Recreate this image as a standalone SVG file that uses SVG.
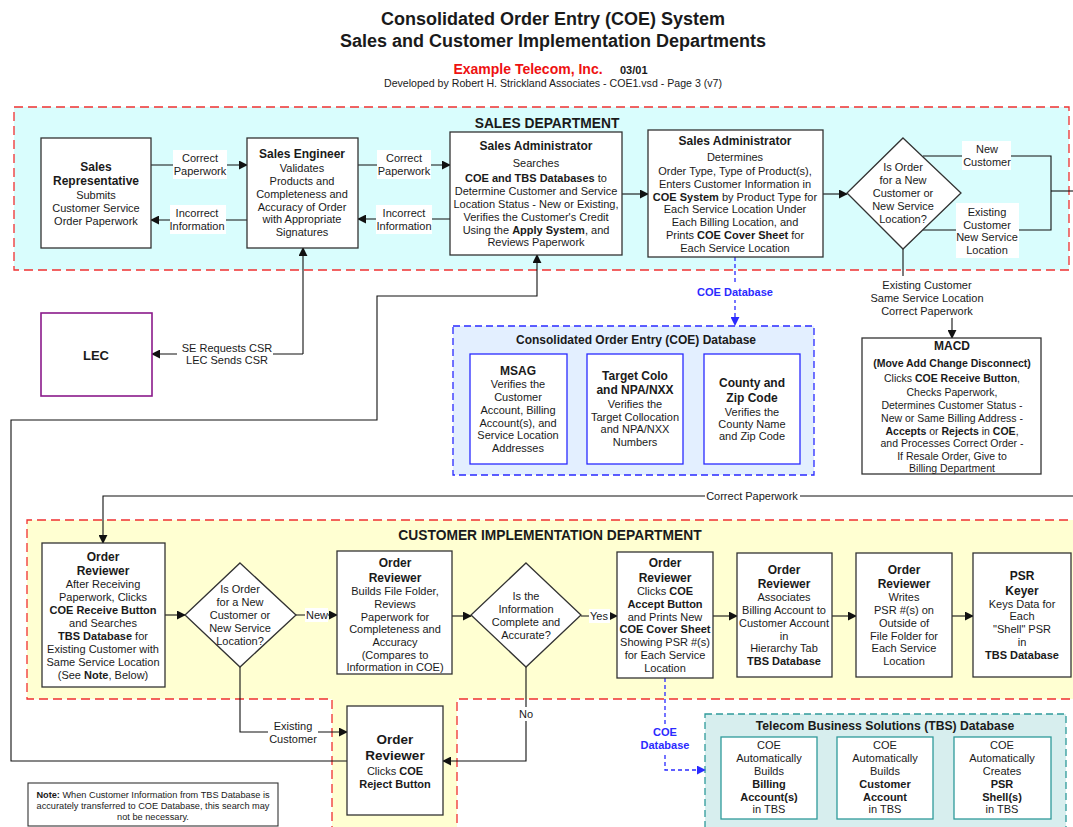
<svg xmlns="http://www.w3.org/2000/svg" width="1073" height="827" viewBox="0 0 1073 827">
<defs>
<marker id="ar" viewBox="0 0 10 10" refX="9" refY="5" markerWidth="9" markerHeight="9" markerUnits="userSpaceOnUse" orient="auto"><path d="M0,0 L10,5 L0,10 Z" fill="#111"/></marker>
<marker id="abl" viewBox="0 0 10 10" refX="9" refY="5" markerWidth="9" markerHeight="9" markerUnits="userSpaceOnUse" orient="auto"><path d="M0,0 L10,5 L0,10 Z" fill="#2a2aff"/></marker>
</defs>
<style>
text{font-family:"Liberation Sans",Arial,Helvetica,sans-serif;fill:#1a1a1a}
.c{text-anchor:middle;font-size:11px}
.m{text-anchor:middle;font-size:10.5px}
.b{font-weight:bold}
.h{font-size:12px;font-weight:bold}
.box{fill:#fff;stroke:#333;stroke-width:1.3}
.ln{fill:none;stroke:#111;stroke-width:1.1}
.dl{fill:none;stroke:#2a2aff;stroke-width:1.3;stroke-dasharray:4,3}
.lb{fill:#fff}
.blue{fill:#2a2aff;font-weight:bold;font-size:11px;text-anchor:middle}
.dept{fill:none;stroke:#f03030;stroke-width:1.3;stroke-dasharray:9,5}
.dh{font-size:13.8px;font-weight:bold;text-anchor:middle}
.sub{fill:#fff;stroke:#2a2aff;stroke-width:1.3}
.tsub{fill:#fff;stroke:#2f9a9a;stroke-width:1.3}
</style>
<rect width="1073" height="827" fill="#fff"/>

<g id="title">
<text x="553" y="25" text-anchor="middle" font-size="18" font-weight="bold">Consolidated Order Entry (COE) System</text>
<text x="553" y="47" text-anchor="middle" font-size="18" font-weight="bold">Sales and Customer Implementation Departments</text>
<text x="528" y="74" text-anchor="middle" font-size="14" font-weight="bold" style="fill:#ee1111">Example Telecom, Inc.</text>
<text x="620" y="74" font-size="11" font-weight="bold">03/01</text>
<text x="553" y="87" text-anchor="middle" font-size="10.6">Developed by Robert H. Strickland Associates - COE1.vsd  - Page 3 (v7)</text>
</g>

<g id="sales-department">
<rect x="14" y="107" width="1055" height="163" fill="#d9fdfd"/>
<rect x="14" y="107" width="1055" height="163" class="dept"/>
<text x="547" y="128" class="dh">SALES DEPARTMENT</text>
</g>

<g id="ci-department">
<rect x="27" y="520" width="1060" height="179" fill="#ffffd2"/>
<rect x="332" y="699" width="125" height="135" fill="#ffffd2"/>
<path d="M332,835 V699 H27 V520 H1087 V699 H457 V835" class="dept"/>
<text x="550" y="540" class="dh">CUSTOMER IMPLEMENTATION DEPARTMENT</text>
</g>

<g id="coe-database">
<rect x="453" y="326" width="361" height="149" fill="#e3efff" stroke="#2a2aff" stroke-width="1.3" stroke-dasharray="7,4"/>
<text x="636" y="344" text-anchor="middle" font-size="12" font-weight="bold">Consolidated Order Entry (COE) Database</text>
</g>

<g id="tbs-database">
<rect x="705" y="714" width="361" height="125" fill="#d7eeee" stroke="#2f9a9a" stroke-width="1.3" stroke-dasharray="7,4"/>
<text x="885" y="730" text-anchor="middle" font-size="12.2" font-weight="bold">Telecom Business Solutions (TBS) Database</text>
</g>

<g id="connectors">
<path d="M151,165 H247" class="ln" marker-end="url(#ar)"/>
<path d="M247,220 H151" class="ln" marker-end="url(#ar)"/>
<path d="M358,165 H450" class="ln" marker-end="url(#ar)"/>
<path d="M450,219 H358" class="ln" marker-end="url(#ar)"/>
<path d="M622,194 H648" class="ln" marker-end="url(#ar)"/>
<path d="M823,194 H847" class="ln" marker-end="url(#ar)"/>
<path d="M923,156 H1051 V230 H923" class="ln"/>
<path d="M1051,191 H1075" class="ln"/>
<path d="M903,249 V276" class="ln"/>
<path d="M952,318 V338" class="ln" marker-end="url(#ar)"/>
<path d="M303,354 H152" class="ln" marker-end="url(#ar)"/>
<path d="M303,354 V248" class="ln" marker-end="url(#ar)"/>
<path d="M347,761 H11 V420 H377 V296 H537 V255" class="ln" marker-end="url(#ar)"/>
<path d="M1075,496 H103 V543" class="ln" marker-end="url(#ar)"/>
<path d="M735,257 V325" class="dl" marker-end="url(#abl)"/>
<path d="M165,615 H185" class="ln" marker-end="url(#ar)"/>
<path d="M296,615 H337" class="ln" marker-end="url(#ar)"/>
<path d="M452,616 H471" class="ln" marker-end="url(#ar)"/>
<path d="M581,616 H617" class="ln" marker-end="url(#ar)"/>
<path d="M713,616 H737" class="ln" marker-end="url(#ar)"/>
<path d="M832,616 H856" class="ln" marker-end="url(#ar)"/>
<path d="M952,616 H973" class="ln" marker-end="url(#ar)"/>
<path d="M240,667 V732 H347" class="ln" marker-end="url(#ar)"/>
<path d="M526,667 V761 H443" class="ln" marker-end="url(#ar)"/>
<path d="M665,678 V770 H705" class="dl" marker-end="url(#abl)"/>

<rect x="173" y="150" width="54" height="29" class="lb"/>
<text class="c"><tspan x="200" y="162">Correct</tspan><tspan x="200" y="175">Paperwork</tspan></text>
<rect x="170" y="205" width="56" height="29" class="lb"/>
<text class="c"><tspan x="197" y="217">Incorrect</tspan><tspan x="197" y="230">Information</tspan></text>
<rect x="377" y="150" width="54" height="29" class="lb"/>
<text class="c"><tspan x="404" y="162">Correct</tspan><tspan x="404" y="175">Paperwork</tspan></text>
<rect x="376" y="205" width="56" height="29" class="lb"/>
<text class="c"><tspan x="404" y="217">Incorrect</tspan><tspan x="404" y="230">Information</tspan></text>
<rect x="962" y="141" width="49" height="29" class="lb"/>
<text class="c"><tspan x="987" y="153">New</tspan><tspan x="987" y="166">Customer</tspan></text>
<rect x="956" y="203" width="63" height="55" class="lb"/>
<text class="c"><tspan x="987" y="216">Existing</tspan><tspan x="987" y="229">Customer</tspan><tspan x="987" y="241">New Service</tspan><tspan x="987" y="254">Location</tspan></text>
<text class="c"><tspan x="927" y="289">Existing Customer</tspan><tspan x="927" y="302">Same Service Location</tspan><tspan x="927" y="315">Correct Paperwork</tspan></text>
<rect x="177" y="341" width="96" height="26" class="lb"/>
<text class="c"><tspan x="227" y="352">SE Requests CSR</tspan><tspan x="227" y="364">LEC Sends CSR</tspan></text>
<rect x="696" y="285" width="78" height="15" class="lb"/>
<text x="735" y="296" class="blue">COE Database</text>
<rect x="705" y="490" width="95" height="14" class="lb"/>
<text x="752" y="500" class="c">Correct Paperwork</text>
<rect x="305" y="608" width="23" height="14" class="lb"/>
<text x="317" y="619" class="c">New</text>
<rect x="589" y="609" width="21" height="14" class="lb"/>
<text x="599" y="620" class="c">Yes</text>
<rect x="268" y="719" width="50" height="27" class="lb"/>
<text class="c"><tspan x="293" y="730">Existing</tspan><tspan x="293" y="743">Customer</tspan></text>
<rect x="516" y="707" width="20" height="14" class="lb"/>
<text x="526" y="718" class="c">No</text>
<rect x="638" y="724" width="54" height="28" class="lb"/>
<text class="blue"><tspan x="665" y="736">COE</tspan><tspan x="665" y="749">Database</tspan></text>
</g>

<g id="sales-representative">
<rect x="41" y="138" width="110" height="110" class="box"/>
<text class="c"><tspan x="96" y="171" class="h">Sales</tspan><tspan x="96" y="185" class="h">Representative</tspan><tspan x="96" y="199">Submits</tspan><tspan x="96" y="212">Customer Service</tspan><tspan x="96" y="225">Order Paperwork</tspan></text>
</g>

<g id="sales-engineer">
<rect x="247" y="138" width="111" height="110" class="box"/>
<text class="c"><tspan x="302" y="158" class="h">Sales Engineer</tspan><tspan x="302" y="172">Validates</tspan><tspan x="302" y="185">Products and</tspan><tspan x="302" y="198">Completeness and</tspan><tspan x="302" y="211">Accuracy of Order</tspan><tspan x="302" y="223">with Appropriate</tspan><tspan x="302" y="236">Signatures</tspan></text>
</g>

<g id="sales-administrator-1">
<rect x="450" y="132" width="172" height="123" class="box"/>
<text class="c"><tspan x="536" y="150" class="h">Sales Administrator</tspan><tspan x="536" y="167">Searches</tspan><tspan x="536" y="182"><tspan class="b">COE and TBS Databases</tspan> to</tspan><tspan x="536" y="195">Determine Customer and Service</tspan><tspan x="536" y="208">Location Status - New or Existing,</tspan><tspan x="536" y="221">Verifies the Customer's Credit</tspan><tspan x="536" y="234">Using the <tspan class="b">Apply System</tspan>, and</tspan><tspan x="536" y="246">Reviews Paperwork</tspan></text>
</g>

<g id="sales-administrator-2">
<rect x="648" y="130" width="175" height="127" class="box"/>
<text class="c"><tspan x="735" y="145" class="h">Sales Administrator</tspan><tspan x="735" y="161">Determines</tspan><tspan x="735" y="175">Order Type, Type of Product(s),</tspan><tspan x="735" y="188">Enters Customer Information in</tspan><tspan x="735" y="201"><tspan class="b">COE System</tspan> by Product Type for</tspan><tspan x="735" y="213">Each Service Location Under</tspan><tspan x="735" y="226">Each Billing Location, and</tspan><tspan x="735" y="239">Prints <tspan class="b">COE Cover Sheet</tspan> for</tspan><tspan x="735" y="252">Each Service Location</tspan></text>
</g>

<g id="decision-new-customer">
<polygon points="903,138 961,193 903,249 847,193" class="box"/>
<text class="c"><tspan x="903" y="171">Is Order</tspan><tspan x="903" y="184">for a New</tspan><tspan x="903" y="197">Customer or</tspan><tspan x="903" y="210">New Service</tspan><tspan x="903" y="223">Location?</tspan></text>
</g>

<g id="macd">
<rect x="862" y="338" width="179" height="136" class="box"/>
<text class="m"><tspan x="952" y="350" class="h">MACD</tspan><tspan x="952" y="367" class="b">(Move Add Change Disconnect)</tspan><tspan x="952" y="382">Clicks <tspan class="b">COE Receive Button</tspan>,</tspan><tspan x="952" y="396">Checks Paperwork,</tspan><tspan x="952" y="409">Determines Customer Status -</tspan><tspan x="952" y="422">New or Same Billing Address -</tspan><tspan x="952" y="435"><tspan class="b">Accepts</tspan> or <tspan class="b">Rejects</tspan> in <tspan class="b">COE</tspan>,</tspan><tspan x="952" y="447">and Processes Correct Order -</tspan><tspan x="952" y="460">If Resale Order, Give to</tspan><tspan x="952" y="472">Billing Department</tspan></text>
</g>

<g id="lec">
<rect x="41" y="313" width="111" height="83" fill="#fff" stroke="#8a1a8a" stroke-width="1.6"/>
<text x="96" y="360" text-anchor="middle" font-size="13" font-weight="bold">LEC</text>
</g>

<g id="msag">
<rect x="470" y="354" width="97" height="110" class="sub"/>
<text class="c"><tspan x="518" y="375" class="h">MSAG</tspan><tspan x="518" y="388">Verifies the</tspan><tspan x="518" y="401">Customer</tspan><tspan x="518" y="414">Account, Billing</tspan><tspan x="518" y="427">Account(s), and</tspan><tspan x="518" y="439">Service Location</tspan><tspan x="518" y="452">Addresses</tspan></text>
</g>
<g id="target-colo">
<rect x="587" y="354" width="96" height="110" class="sub"/>
<text class="c"><tspan x="635" y="380" class="h">Target Colo</tspan><tspan x="635" y="394" class="h">and NPA/NXX</tspan><tspan x="635" y="408">Verifies the</tspan><tspan x="635" y="421">Target Collocation</tspan><tspan x="635" y="433">and NPA/NXX</tspan><tspan x="635" y="446">Numbers</tspan></text>
</g>
<g id="county-zip">
<rect x="704" y="354" width="96" height="110" class="sub"/>
<text class="c"><tspan x="752" y="387" class="h">County and</tspan><tspan x="752" y="402" class="h">Zip Code</tspan><tspan x="752" y="416">Verifies the</tspan><tspan x="752" y="428">County Name</tspan><tspan x="752" y="440">and Zip Code</tspan></text>
</g>

<g id="order-reviewer-1">
<rect x="42" y="543" width="123" height="144" class="box"/>
<text class="c"><tspan x="103" y="561" class="h">Order</tspan><tspan x="103" y="575" class="h">Reviewer</tspan><tspan x="103" y="588">After Receiving</tspan><tspan x="103" y="601">Paperwork, Clicks</tspan><tspan x="103" y="614" class="b">COE Receive Button</tspan><tspan x="103" y="627">and Searches</tspan><tspan x="103" y="640"><tspan class="b">TBS Database</tspan> for</tspan><tspan x="103" y="653">Existing Customer with</tspan><tspan x="103" y="666">Same Service Location</tspan><tspan x="103" y="679">(See <tspan class="b">Note</tspan>, Below)</tspan></text>
</g>

<g id="decision-new-ci">
<polygon points="240,563 296,615 240,667 185,615" class="box"/>
<text class="c"><tspan x="240" y="593">Is Order</tspan><tspan x="240" y="606">for a New</tspan><tspan x="240" y="619">Customer or</tspan><tspan x="240" y="632">New Service</tspan><tspan x="240" y="645">Location?</tspan></text>
</g>

<g id="order-reviewer-2">
<rect x="337" y="551" width="115" height="123" class="box"/>
<text class="c"><tspan x="395" y="567" class="h">Order</tspan><tspan x="395" y="582" class="h">Reviewer</tspan><tspan x="395" y="595">Builds File Folder,</tspan><tspan x="395" y="608">Reviews</tspan><tspan x="395" y="621">Paperwork for</tspan><tspan x="395" y="633">Completeness and</tspan><tspan x="395" y="646">Accuracy</tspan><tspan x="395" y="659">(Compares to</tspan><tspan x="395" y="671">Information in COE)</tspan></text>
</g>

<g id="decision-complete">
<polygon points="526,563 581,615 526,667 471,615" class="box"/>
<text class="c"><tspan x="526" y="600">Is the</tspan><tspan x="526" y="613">Information</tspan><tspan x="526" y="626">Complete and</tspan><tspan x="526" y="639">Accurate?</tspan></text>
</g>

<g id="order-reviewer-3">
<rect x="617" y="552" width="96" height="126" class="box"/>
<text class="c"><tspan x="665" y="567" class="h">Order</tspan><tspan x="665" y="582" class="h">Reviewer</tspan><tspan x="665" y="595">Clicks <tspan class="b">COE</tspan></tspan><tspan x="665" y="608" class="b">Accept Button</tspan><tspan x="665" y="621">and Prints New</tspan><tspan x="665" y="633" class="b">COE Cover Sheet</tspan><tspan x="665" y="646">Showing PSR #(s)</tspan><tspan x="665" y="659">for Each Service</tspan><tspan x="665" y="672">Location</tspan></text>
</g>

<g id="order-reviewer-4">
<rect x="737" y="553" width="95" height="124" class="box"/>
<text class="c"><tspan x="784" y="574" class="h">Order</tspan><tspan x="784" y="588" class="h">Reviewer</tspan><tspan x="784" y="601">Associates</tspan><tspan x="784" y="614">Billing Account to</tspan><tspan x="784" y="627">Customer Account</tspan><tspan x="784" y="640">in</tspan><tspan x="784" y="652">Hierarchy Tab</tspan><tspan x="784" y="665" class="b">TBS Database</tspan></text>
</g>

<g id="order-reviewer-5">
<rect x="856" y="553" width="96" height="124" class="box"/>
<text class="c"><tspan x="904" y="574" class="h">Order</tspan><tspan x="904" y="588" class="h">Reviewer</tspan><tspan x="904" y="601">Writes</tspan><tspan x="904" y="614">PSR #(s) on</tspan><tspan x="904" y="627">Outside of</tspan><tspan x="904" y="640">File Folder for</tspan><tspan x="904" y="652">Each Service</tspan><tspan x="904" y="665">Location</tspan></text>
</g>

<g id="psr-keyer">
<rect x="973" y="553" width="98" height="124" class="box"/>
<text class="c"><tspan x="1022" y="580" class="h">PSR</tspan><tspan x="1022" y="595" class="h">Keyer</tspan><tspan x="1022" y="608">Keys Data for</tspan><tspan x="1022" y="620">Each</tspan><tspan x="1022" y="633">"Shell" PSR</tspan><tspan x="1022" y="646">in</tspan><tspan x="1022" y="659" class="b">TBS Database</tspan></text>
</g>

<g id="order-reviewer-reject">
<rect x="347" y="706" width="96" height="109" class="box"/>
<text class="c"><tspan x="395" y="744" font-size="13.5" font-weight="bold">Order</tspan><tspan x="395" y="760" font-size="13.5" font-weight="bold">Reviewer</tspan><tspan x="395" y="775">Clicks <tspan class="b">COE</tspan></tspan><tspan x="395" y="788" class="b">Reject Button</tspan></text>
</g>

<g id="note">
<rect x="28" y="783" width="250" height="43" fill="#fff" stroke="#333" stroke-width="1.1"/>
<text text-anchor="middle" font-size="9.2"><tspan x="153" y="798"><tspan font-weight="bold">Note:</tspan>  When Customer Information from TBS Database is</tspan><tspan x="153" y="809">accurately transferred to COE Database, this search may</tspan><tspan x="153" y="820">not be necessary.</tspan></text>
</g>

<g id="tbs-billing">
<rect x="721" y="737" width="96" height="82" class="tsub"/>
<text class="c"><tspan x="769" y="749">COE</tspan><tspan x="769" y="762">Automatically</tspan><tspan x="769" y="775">Builds</tspan><tspan x="769" y="788" class="b">Billing</tspan><tspan x="769" y="801" class="b">Account(s)</tspan><tspan x="769" y="813">in TBS</tspan></text>
</g>
<g id="tbs-customer">
<rect x="837" y="737" width="96" height="82" class="tsub"/>
<text class="c"><tspan x="885" y="749">COE</tspan><tspan x="885" y="762">Automatically</tspan><tspan x="885" y="775">Builds</tspan><tspan x="885" y="788" class="b">Customer</tspan><tspan x="885" y="801" class="b">Account</tspan><tspan x="885" y="813">in TBS</tspan></text>
</g>
<g id="tbs-psr">
<rect x="954" y="737" width="97" height="82" class="tsub"/>
<text class="c"><tspan x="1002" y="749">COE</tspan><tspan x="1002" y="762">Automatically</tspan><tspan x="1002" y="775">Creates</tspan><tspan x="1002" y="788" class="b">PSR</tspan><tspan x="1002" y="801" class="b">Shell(s)</tspan><tspan x="1002" y="813">in TBS</tspan></text>
</g>
</svg>
